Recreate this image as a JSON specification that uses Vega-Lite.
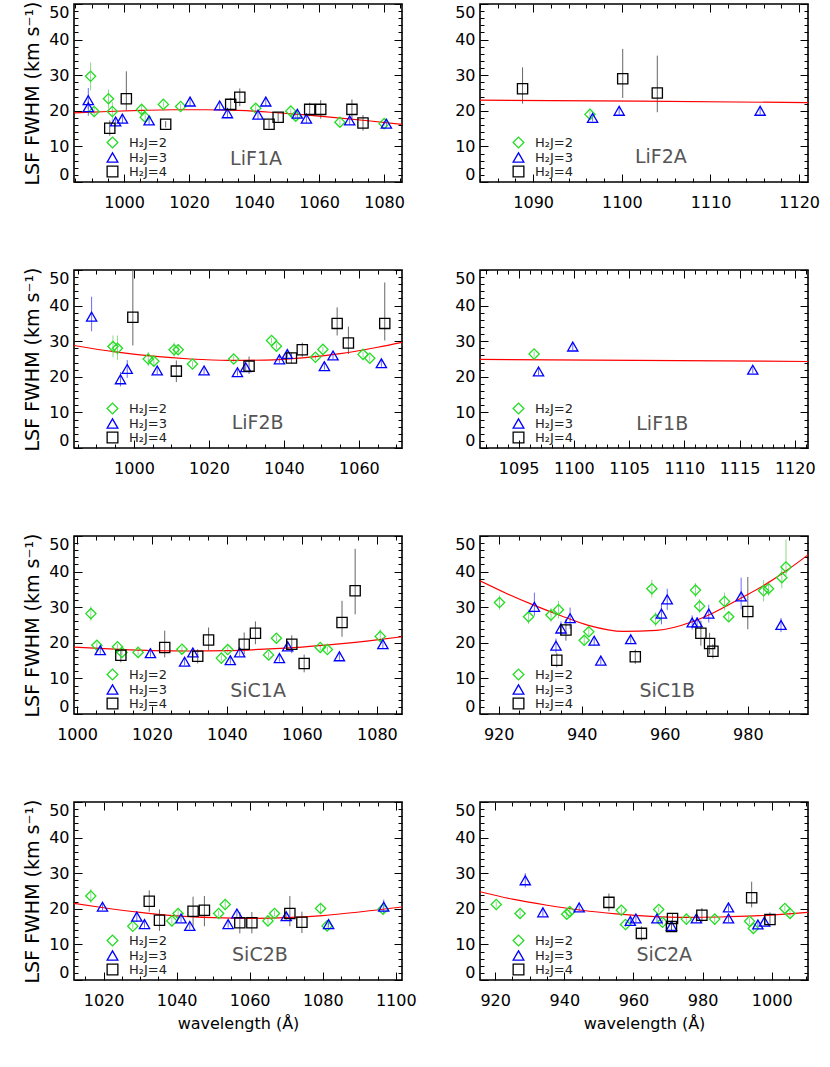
{
"$schema": "https://vega.github.io/schema/vega-lite/v6.json",
"padding": {"left": 22, "top": 0, "right": 0, "bottom": 0},
"config": {
  "font": "DejaVu Sans",
  "view": {"stroke": "#000", "strokeWidth": 1.6},
  "axis": {"domain": false, "grid": false, "tickColor": "#000", "tickWidth": 1, "labelFontSize": 16, "labelColor": "#000", "titleFontSize": 16, "titleFontWeight": "normal", "titleColor": "#000", "labelFont": "DejaVu Sans", "titleFont": "DejaVu Sans"},
  "axisX": {"titlePadding": 3},
  "axisY": {"titlePadding": 6, "titleFontSize": 19}
},
"datasets": {
"pts": [
{"p":"LiF1A","j":"H₂J=2","wl":989.7,"v":29.7,"lo":25.7,"hi":33.6},
{"p":"LiF1A","j":"H₂J=2","wl":990.8,"v":19.8,"lo":18.5,"hi":21.1},
{"p":"LiF1A","j":"H₂J=2","wl":995.2,"v":23.4,"lo":20.6,"hi":26.0},
{"p":"LiF1A","j":"H₂J=2","wl":996.4,"v":19.8,"lo":17.0,"hi":22.5},
{"p":"LiF1A","j":"H₂J=2","wl":1005.4,"v":20.4,"lo":19.2,"hi":21.6},
{"p":"LiF1A","j":"H₂J=2","wl":1006.5,"v":18.2,"lo":16.9,"hi":19.5},
{"p":"LiF1A","j":"H₂J=2","wl":1012.1,"v":21.8,"lo":21.0,"hi":22.6},
{"p":"LiF1A","j":"H₂J=2","wl":1017.4,"v":21.2,"lo":20.4,"hi":22.0},
{"p":"LiF1A","j":"H₂J=2","wl":1040.5,"v":20.7,"lo":19.7,"hi":21.7},
{"p":"LiF1A","j":"H₂J=2","wl":1051.3,"v":19.9,"lo":19.1,"hi":20.7},
{"p":"LiF1A","j":"H₂J=2","wl":1052.8,"v":18.5,"lo":17.5,"hi":19.5},
{"p":"LiF1A","j":"H₂J=2","wl":1066.4,"v":16.8,"lo":16.0,"hi":17.6},
{"p":"LiF1A","j":"H₂J=2","wl":1080.0,"v":16.4,"lo":15.6,"hi":17.2},
{"p":"LiF1A","j":"H₂J=3","wl":989.0,"v":23.0,"lo":20.5,"hi":26.4},
{"p":"LiF1A","j":"H₂J=3","wl":989.0,"v":21.0,"lo":18.6,"hi":23.0},
{"p":"LiF1A","j":"H₂J=3","wl":997.4,"v":17.0,"lo":15.8,"hi":18.2},
{"p":"LiF1A","j":"H₂J=3","wl":999.5,"v":17.8,"lo":16.6,"hi":19.0},
{"p":"LiF1A","j":"H₂J=3","wl":1007.7,"v":17.3,"lo":16.1,"hi":18.5},
{"p":"LiF1A","j":"H₂J=3","wl":1020.3,"v":22.6,"lo":21.4,"hi":23.8},
{"p":"LiF1A","j":"H₂J=3","wl":1029.4,"v":21.5,"lo":20.3,"hi":22.7},
{"p":"LiF1A","j":"H₂J=3","wl":1031.8,"v":19.3,"lo":18.1,"hi":20.5},
{"p":"LiF1A","j":"H₂J=3","wl":1041.2,"v":18.9,"lo":17.7,"hi":20.1},
{"p":"LiF1A","j":"H₂J=3","wl":1043.6,"v":22.6,"lo":21.4,"hi":23.8},
{"p":"LiF1A","j":"H₂J=3","wl":1053.3,"v":19.2,"lo":18.0,"hi":20.4},
{"p":"LiF1A","j":"H₂J=3","wl":1056.1,"v":17.8,"lo":16.6,"hi":19.0},
{"p":"LiF1A","j":"H₂J=3","wl":1069.4,"v":17.3,"lo":16.1,"hi":18.5},
{"p":"LiF1A","j":"H₂J=3","wl":1080.7,"v":16.4,"lo":15.2,"hi":17.6},
{"p":"LiF1A","j":"H₂J=4","wl":995.6,"v":15.1,"lo":13.0,"hi":17.3},
{"p":"LiF1A","j":"H₂J=4","wl":1000.7,"v":23.4,"lo":20.1,"hi":31.1},
{"p":"LiF1A","j":"H₂J=4","wl":1012.8,"v":16.2,"lo":15.3,"hi":17.1},
{"p":"LiF1A","j":"H₂J=4","wl":1032.8,"v":21.8,"lo":20.0,"hi":23.6},
{"p":"LiF1A","j":"H₂J=4","wl":1035.6,"v":23.8,"lo":21.3,"hi":26.3},
{"p":"LiF1A","j":"H₂J=4","wl":1044.6,"v":16.2,"lo":15.0,"hi":17.4},
{"p":"LiF1A","j":"H₂J=4","wl":1047.4,"v":18.2,"lo":17.0,"hi":19.4},
{"p":"LiF1A","j":"H₂J=4","wl":1057.1,"v":20.4,"lo":18.5,"hi":22.3},
{"p":"LiF1A","j":"H₂J=4","wl":1060.5,"v":20.4,"lo":17.8,"hi":23.0},
{"p":"LiF1A","j":"H₂J=4","wl":1070.1,"v":20.4,"lo":17.6,"hi":23.2},
{"p":"LiF1A","j":"H₂J=4","wl":1073.5,"v":16.6,"lo":14.4,"hi":18.8},
{"p":"LiF2A","j":"H₂J=2","wl":1096.4,"v":19.0,"lo":18.2,"hi":19.8},
{"p":"LiF2A","j":"H₂J=3","wl":1096.7,"v":18.0,"lo":17.0,"hi":19.0},
{"p":"LiF2A","j":"H₂J=3","wl":1099.7,"v":20.0,"lo":19.0,"hi":21.0},
{"p":"LiF2A","j":"H₂J=3","wl":1115.6,"v":20.0,"lo":19.0,"hi":21.0},
{"p":"LiF2A","j":"H₂J=4","wl":1088.8,"v":26.2,"lo":22.0,"hi":32.2},
{"p":"LiF2A","j":"H₂J=4","wl":1100.1,"v":29.0,"lo":23.6,"hi":37.4},
{"p":"LiF2A","j":"H₂J=4","wl":1104.0,"v":25.0,"lo":19.6,"hi":35.5},
{"p":"LiF2B","j":"H₂J=3","wl":988.7,"v":36.9,"lo":32.8,"hi":42.5},
{"p":"LiF2B","j":"H₂J=3","wl":996.4,"v":19.3,"lo":17.3,"hi":21.3},
{"p":"LiF2B","j":"H₂J=3","wl":998.2,"v":22.2,"lo":19.7,"hi":24.7},
{"p":"LiF2B","j":"H₂J=3","wl":1006.2,"v":21.8,"lo":20.8,"hi":22.8},
{"p":"LiF2B","j":"H₂J=3","wl":1018.7,"v":21.8,"lo":20.8,"hi":22.8},
{"p":"LiF2B","j":"H₂J=3","wl":1027.6,"v":21.3,"lo":20.3,"hi":22.3},
{"p":"LiF2B","j":"H₂J=3","wl":1029.8,"v":22.7,"lo":21.7,"hi":23.7},
{"p":"LiF2B","j":"H₂J=3","wl":1038.8,"v":24.9,"lo":23.9,"hi":25.9},
{"p":"LiF2B","j":"H₂J=3","wl":1040.9,"v":26.4,"lo":25.4,"hi":27.4},
{"p":"LiF2B","j":"H₂J=3","wl":1050.8,"v":23.0,"lo":22.0,"hi":24.0},
{"p":"LiF2B","j":"H₂J=3","wl":1053.1,"v":26.0,"lo":25.0,"hi":27.0},
{"p":"LiF2B","j":"H₂J=3","wl":1066.0,"v":23.8,"lo":22.8,"hi":24.8},
{"p":"LiF2B","j":"H₂J=2","wl":994.4,"v":28.5,"lo":25.5,"hi":31.6},
{"p":"LiF2B","j":"H₂J=2","wl":995.6,"v":28.0,"lo":24.8,"hi":31.6},
{"p":"LiF2B","j":"H₂J=2","wl":1003.8,"v":25.0,"lo":23.0,"hi":27.0},
{"p":"LiF2B","j":"H₂J=2","wl":1005.3,"v":24.4,"lo":22.8,"hi":26.0},
{"p":"LiF2B","j":"H₂J=2","wl":1010.7,"v":27.6,"lo":25.6,"hi":29.6},
{"p":"LiF2B","j":"H₂J=2","wl":1011.8,"v":27.6,"lo":26.4,"hi":28.8},
{"p":"LiF2B","j":"H₂J=2","wl":1015.6,"v":23.6,"lo":22.8,"hi":24.4},
{"p":"LiF2B","j":"H₂J=2","wl":1026.6,"v":25.0,"lo":24.2,"hi":25.8},
{"p":"LiF2B","j":"H₂J=2","wl":1036.7,"v":30.2,"lo":29.4,"hi":31.0},
{"p":"LiF2B","j":"H₂J=2","wl":1038.0,"v":28.6,"lo":27.8,"hi":29.4},
{"p":"LiF2B","j":"H₂J=2","wl":1048.4,"v":25.5,"lo":24.7,"hi":26.3},
{"p":"LiF2B","j":"H₂J=2","wl":1050.4,"v":27.7,"lo":26.9,"hi":28.5},
{"p":"LiF2B","j":"H₂J=2","wl":1061.1,"v":26.3,"lo":25.5,"hi":27.1},
{"p":"LiF2B","j":"H₂J=2","wl":1062.9,"v":25.2,"lo":24.4,"hi":26.0},
{"p":"LiF2B","j":"H₂J=4","wl":999.7,"v":36.7,"lo":28.8,"hi":52.0},
{"p":"LiF2B","j":"H₂J=4","wl":1011.3,"v":21.6,"lo":18.5,"hi":24.6},
{"p":"LiF2B","j":"H₂J=4","wl":1030.7,"v":23.0,"lo":20.8,"hi":25.7},
{"p":"LiF2B","j":"H₂J=4","wl":1042.0,"v":25.3,"lo":23.8,"hi":26.8},
{"p":"LiF2B","j":"H₂J=4","wl":1044.9,"v":27.6,"lo":25.6,"hi":29.6},
{"p":"LiF2B","j":"H₂J=4","wl":1054.2,"v":35.0,"lo":31.6,"hi":39.5},
{"p":"LiF2B","j":"H₂J=4","wl":1057.2,"v":29.5,"lo":26.4,"hi":34.1},
{"p":"LiF2B","j":"H₂J=4","wl":1066.9,"v":35.0,"lo":30.2,"hi":46.5},
{"p":"LiF1B","j":"H₂J=2","wl":1096.4,"v":26.4,"lo":25.6,"hi":27.2},
{"p":"LiF1B","j":"H₂J=3","wl":1096.8,"v":21.5,"lo":20.5,"hi":22.5},
{"p":"LiF1B","j":"H₂J=3","wl":1099.9,"v":28.5,"lo":27.5,"hi":29.5},
{"p":"LiF1B","j":"H₂J=3","wl":1116.2,"v":22.0,"lo":21.0,"hi":23.0},
{"p":"SiC1A","j":"H₂J=2","wl":1003.7,"v":28.2,"lo":26.2,"hi":30.2},
{"p":"SiC1A","j":"H₂J=2","wl":1005.3,"v":19.3,"lo":18.5,"hi":20.1},
{"p":"SiC1A","j":"H₂J=2","wl":1010.8,"v":18.9,"lo":18.1,"hi":19.7},
{"p":"SiC1A","j":"H₂J=2","wl":1012.0,"v":17.3,"lo":16.5,"hi":18.1},
{"p":"SiC1A","j":"H₂J=2","wl":1016.3,"v":17.3,"lo":16.5,"hi":18.1},
{"p":"SiC1A","j":"H₂J=2","wl":1028.0,"v":18.2,"lo":17.4,"hi":19.0},
{"p":"SiC1A","j":"H₂J=2","wl":1038.5,"v":15.7,"lo":14.9,"hi":16.5},
{"p":"SiC1A","j":"H₂J=2","wl":1040.2,"v":18.1,"lo":17.3,"hi":18.9},
{"p":"SiC1A","j":"H₂J=2","wl":1051.1,"v":16.6,"lo":15.8,"hi":17.4},
{"p":"SiC1A","j":"H₂J=2","wl":1053.2,"v":21.3,"lo":20.5,"hi":22.1},
{"p":"SiC1A","j":"H₂J=2","wl":1064.9,"v":18.7,"lo":17.9,"hi":19.5},
{"p":"SiC1A","j":"H₂J=2","wl":1066.8,"v":18.1,"lo":17.3,"hi":18.9},
{"p":"SiC1A","j":"H₂J=2","wl":1080.9,"v":21.8,"lo":19.8,"hi":23.8},
{"p":"SiC1A","j":"H₂J=3","wl":1006.2,"v":17.9,"lo":16.9,"hi":18.9},
{"p":"SiC1A","j":"H₂J=3","wl":1019.6,"v":17.1,"lo":16.1,"hi":18.1},
{"p":"SiC1A","j":"H₂J=3","wl":1028.7,"v":14.7,"lo":13.7,"hi":15.7},
{"p":"SiC1A","j":"H₂J=3","wl":1030.9,"v":17.3,"lo":16.3,"hi":18.3},
{"p":"SiC1A","j":"H₂J=3","wl":1040.9,"v":15.1,"lo":14.1,"hi":16.1},
{"p":"SiC1A","j":"H₂J=3","wl":1043.4,"v":17.3,"lo":16.3,"hi":18.3},
{"p":"SiC1A","j":"H₂J=3","wl":1054.0,"v":15.7,"lo":14.7,"hi":16.7},
{"p":"SiC1A","j":"H₂J=3","wl":1056.2,"v":19.0,"lo":18.0,"hi":20.0},
{"p":"SiC1A","j":"H₂J=3","wl":1070.0,"v":16.2,"lo":15.2,"hi":17.2},
{"p":"SiC1A","j":"H₂J=3","wl":1081.6,"v":19.6,"lo":18.4,"hi":20.8},
{"p":"SiC1A","j":"H₂J=4","wl":1011.7,"v":16.5,"lo":14.5,"hi":18.5},
{"p":"SiC1A","j":"H₂J=4","wl":1023.4,"v":18.7,"lo":15.9,"hi":23.4},
{"p":"SiC1A","j":"H₂J=4","wl":1032.2,"v":16.2,"lo":14.2,"hi":18.2},
{"p":"SiC1A","j":"H₂J=4","wl":1035.1,"v":20.8,"lo":17.9,"hi":24.3},
{"p":"SiC1A","j":"H₂J=4","wl":1044.6,"v":19.6,"lo":16.8,"hi":22.9},
{"p":"SiC1A","j":"H₂J=4","wl":1047.6,"v":22.7,"lo":19.6,"hi":26.0},
{"p":"SiC1A","j":"H₂J=4","wl":1057.3,"v":19.6,"lo":17.1,"hi":22.1},
{"p":"SiC1A","j":"H₂J=4","wl":1060.6,"v":14.2,"lo":11.7,"hi":16.7},
{"p":"SiC1A","j":"H₂J=4","wl":1070.7,"v":25.7,"lo":21.7,"hi":31.8},
{"p":"SiC1A","j":"H₂J=4","wl":1074.2,"v":34.6,"lo":28.0,"hi":46.4},
{"p":"SiC1B","j":"H₂J=2","wl":920.2,"v":31.3,"lo":29.3,"hi":33.3},
{"p":"SiC1B","j":"H₂J=2","wl":927.2,"v":27.3,"lo":25.3,"hi":29.3},
{"p":"SiC1B","j":"H₂J=2","wl":932.6,"v":27.8,"lo":25.8,"hi":29.8},
{"p":"SiC1B","j":"H₂J=2","wl":934.4,"v":29.3,"lo":26.8,"hi":31.8},
{"p":"SiC1B","j":"H₂J=2","wl":940.6,"v":20.7,"lo":19.2,"hi":22.2},
{"p":"SiC1B","j":"H₂J=2","wl":941.7,"v":23.1,"lo":21.6,"hi":24.6},
{"p":"SiC1B","j":"H₂J=2","wl":956.9,"v":35.2,"lo":32.7,"hi":37.7},
{"p":"SiC1B","j":"H₂J=2","wl":957.8,"v":26.6,"lo":24.6,"hi":28.6},
{"p":"SiC1B","j":"H₂J=2","wl":967.4,"v":34.8,"lo":32.8,"hi":36.8},
{"p":"SiC1B","j":"H₂J=2","wl":968.4,"v":30.3,"lo":28.3,"hi":32.3},
{"p":"SiC1B","j":"H₂J=2","wl":974.4,"v":31.6,"lo":29.1,"hi":34.1},
{"p":"SiC1B","j":"H₂J=2","wl":975.4,"v":27.3,"lo":25.8,"hi":28.8},
{"p":"SiC1B","j":"H₂J=2","wl":983.8,"v":34.6,"lo":31.6,"hi":37.6},
{"p":"SiC1B","j":"H₂J=2","wl":985.0,"v":35.2,"lo":33.2,"hi":37.2},
{"p":"SiC1B","j":"H₂J=2","wl":988.2,"v":38.3,"lo":35.3,"hi":41.3},
{"p":"SiC1B","j":"H₂J=2","wl":989.2,"v":41.3,"lo":38.8,"hi":49.0},
{"p":"SiC1B","j":"H₂J=3","wl":928.6,"v":30.1,"lo":27.6,"hi":34.1},
{"p":"SiC1B","j":"H₂J=3","wl":933.8,"v":19.2,"lo":17.2,"hi":21.2},
{"p":"SiC1B","j":"H₂J=3","wl":935.0,"v":24.0,"lo":22.0,"hi":26.0},
{"p":"SiC1B","j":"H₂J=3","wl":937.2,"v":26.9,"lo":23.9,"hi":29.9},
{"p":"SiC1B","j":"H₂J=3","wl":943.0,"v":20.6,"lo":19.4,"hi":21.8},
{"p":"SiC1B","j":"H₂J=3","wl":944.6,"v":15.0,"lo":14.0,"hi":16.0},
{"p":"SiC1B","j":"H₂J=3","wl":951.8,"v":21.0,"lo":19.8,"hi":22.2},
{"p":"SiC1B","j":"H₂J=3","wl":959.2,"v":28.2,"lo":25.2,"hi":31.2},
{"p":"SiC1B","j":"H₂J=3","wl":960.6,"v":32.2,"lo":29.2,"hi":35.2},
{"p":"SiC1B","j":"H₂J=3","wl":966.6,"v":25.7,"lo":23.7,"hi":27.7},
{"p":"SiC1B","j":"H₂J=3","wl":967.8,"v":25.7,"lo":24.2,"hi":27.2},
{"p":"SiC1B","j":"H₂J=3","wl":970.6,"v":28.2,"lo":25.7,"hi":30.7},
{"p":"SiC1B","j":"H₂J=3","wl":978.4,"v":33.0,"lo":29.4,"hi":38.3},
{"p":"SiC1B","j":"H₂J=3","wl":988.0,"v":25.0,"lo":23.0,"hi":27.0},
{"p":"SiC1B","j":"H₂J=4","wl":934.0,"v":15.1,"lo":13.1,"hi":17.1},
{"p":"SiC1B","j":"H₂J=4","wl":936.2,"v":23.6,"lo":20.6,"hi":26.6},
{"p":"SiC1B","j":"H₂J=4","wl":952.9,"v":16.1,"lo":14.1,"hi":18.1},
{"p":"SiC1B","j":"H₂J=4","wl":968.7,"v":22.7,"lo":19.2,"hi":26.2},
{"p":"SiC1B","j":"H₂J=4","wl":970.8,"v":19.8,"lo":16.8,"hi":22.8},
{"p":"SiC1B","j":"H₂J=4","wl":971.6,"v":17.6,"lo":15.6,"hi":19.6},
{"p":"SiC1B","j":"H₂J=4","wl":980.0,"v":28.8,"lo":23.8,"hi":38.5},
{"p":"SiC2B","j":"H₂J=2","wl":1016.5,"v":23.6,"lo":21.6,"hi":25.6},
{"p":"SiC2B","j":"H₂J=2","wl":1028.0,"v":15.1,"lo":14.3,"hi":15.9},
{"p":"SiC2B","j":"H₂J=2","wl":1038.7,"v":16.6,"lo":15.8,"hi":17.4},
{"p":"SiC2B","j":"H₂J=2","wl":1040.4,"v":18.7,"lo":17.2,"hi":20.2},
{"p":"SiC2B","j":"H₂J=2","wl":1051.5,"v":18.7,"lo":17.9,"hi":19.5},
{"p":"SiC2B","j":"H₂J=2","wl":1053.3,"v":21.2,"lo":19.7,"hi":22.7},
{"p":"SiC2B","j":"H₂J=2","wl":1065.0,"v":16.6,"lo":15.8,"hi":17.4},
{"p":"SiC2B","j":"H₂J=2","wl":1066.8,"v":18.7,"lo":17.9,"hi":19.5},
{"p":"SiC2B","j":"H₂J=2","wl":1079.4,"v":20.1,"lo":18.6,"hi":21.6},
{"p":"SiC2B","j":"H₂J=2","wl":1081.2,"v":15.2,"lo":14.4,"hi":16.0},
{"p":"SiC2B","j":"H₂J=2","wl":1096.5,"v":19.9,"lo":19.1,"hi":20.7},
{"p":"SiC2B","j":"H₂J=3","wl":1019.7,"v":20.6,"lo":19.6,"hi":21.6},
{"p":"SiC2B","j":"H₂J=3","wl":1029.1,"v":17.8,"lo":16.3,"hi":19.3},
{"p":"SiC2B","j":"H₂J=3","wl":1031.2,"v":15.7,"lo":14.7,"hi":16.7},
{"p":"SiC2B","j":"H₂J=3","wl":1041.2,"v":17.3,"lo":16.3,"hi":18.3},
{"p":"SiC2B","j":"H₂J=3","wl":1043.6,"v":15.2,"lo":14.2,"hi":16.2},
{"p":"SiC2B","j":"H₂J=3","wl":1054.1,"v":15.7,"lo":14.7,"hi":16.7},
{"p":"SiC2B","j":"H₂J=3","wl":1056.5,"v":18.7,"lo":17.7,"hi":19.7},
{"p":"SiC2B","j":"H₂J=3","wl":1070.0,"v":17.9,"lo":16.9,"hi":18.9},
{"p":"SiC2B","j":"H₂J=3","wl":1081.6,"v":15.7,"lo":14.7,"hi":16.7},
{"p":"SiC2B","j":"H₂J=3","wl":1096.7,"v":20.6,"lo":18.6,"hi":22.6},
{"p":"SiC2B","j":"H₂J=4","wl":1032.5,"v":22.1,"lo":19.2,"hi":25.2},
{"p":"SiC2B","j":"H₂J=4","wl":1035.3,"v":16.8,"lo":13.8,"hi":19.8},
{"p":"SiC2B","j":"H₂J=4","wl":1044.5,"v":19.3,"lo":15.0,"hi":23.4},
{"p":"SiC2B","j":"H₂J=4","wl":1047.6,"v":19.6,"lo":15.1,"hi":23.6},
{"p":"SiC2B","j":"H₂J=4","wl":1057.3,"v":16.1,"lo":13.1,"hi":19.1},
{"p":"SiC2B","j":"H₂J=4","wl":1060.6,"v":16.1,"lo":13.1,"hi":19.1},
{"p":"SiC2B","j":"H₂J=4","wl":1071.0,"v":18.7,"lo":15.1,"hi":23.6},
{"p":"SiC2B","j":"H₂J=4","wl":1074.3,"v":16.2,"lo":13.2,"hi":19.2},
{"p":"SiC2A","j":"H₂J=2","wl":920.3,"v":21.2,"lo":20.4,"hi":22.0},
{"p":"SiC2A","j":"H₂J=2","wl":927.2,"v":18.7,"lo":17.9,"hi":19.5},
{"p":"SiC2A","j":"H₂J=2","wl":940.7,"v":18.5,"lo":17.7,"hi":19.3},
{"p":"SiC2A","j":"H₂J=2","wl":941.6,"v":19.2,"lo":18.4,"hi":20.0},
{"p":"SiC2A","j":"H₂J=2","wl":956.5,"v":19.6,"lo":18.8,"hi":20.4},
{"p":"SiC2A","j":"H₂J=2","wl":957.7,"v":15.6,"lo":14.8,"hi":16.4},
{"p":"SiC2A","j":"H₂J=2","wl":967.3,"v":19.8,"lo":19.0,"hi":20.6},
{"p":"SiC2A","j":"H₂J=2","wl":968.4,"v":16.2,"lo":15.4,"hi":17.0},
{"p":"SiC2A","j":"H₂J=2","wl":975.3,"v":17.1,"lo":16.3,"hi":17.9},
{"p":"SiC2A","j":"H₂J=2","wl":983.5,"v":17.1,"lo":16.3,"hi":17.9},
{"p":"SiC2A","j":"H₂J=2","wl":993.6,"v":16.5,"lo":15.7,"hi":17.3},
{"p":"SiC2A","j":"H₂J=2","wl":994.7,"v":14.5,"lo":13.7,"hi":15.3},
{"p":"SiC2A","j":"H₂J=2","wl":1003.8,"v":20.1,"lo":19.3,"hi":20.9},
{"p":"SiC2A","j":"H₂J=2","wl":1005.3,"v":18.7,"lo":17.9,"hi":19.5},
{"p":"SiC2A","j":"H₂J=3","wl":928.7,"v":28.0,"lo":26.0,"hi":30.0},
{"p":"SiC2A","j":"H₂J=3","wl":933.8,"v":19.0,"lo":18.0,"hi":20.0},
{"p":"SiC2A","j":"H₂J=3","wl":944.3,"v":20.4,"lo":19.4,"hi":21.4},
{"p":"SiC2A","j":"H₂J=3","wl":959.1,"v":16.6,"lo":15.6,"hi":17.6},
{"p":"SiC2A","j":"H₂J=3","wl":960.7,"v":17.3,"lo":16.3,"hi":18.3},
{"p":"SiC2A","j":"H₂J=3","wl":966.8,"v":17.3,"lo":16.3,"hi":18.3},
{"p":"SiC2A","j":"H₂J=3","wl":971.0,"v":15.2,"lo":14.2,"hi":16.2},
{"p":"SiC2A","j":"H₂J=3","wl":978.2,"v":17.3,"lo":16.3,"hi":18.3},
{"p":"SiC2A","j":"H₂J=3","wl":987.5,"v":20.4,"lo":19.4,"hi":21.4},
{"p":"SiC2A","j":"H₂J=3","wl":987.5,"v":17.3,"lo":16.3,"hi":18.3},
{"p":"SiC2A","j":"H₂J=3","wl":996.0,"v":15.6,"lo":14.6,"hi":16.6},
{"p":"SiC2A","j":"H₂J=3","wl":997.9,"v":16.4,"lo":15.4,"hi":17.4},
{"p":"SiC2A","j":"H₂J=4","wl":952.9,"v":21.8,"lo":19.3,"hi":24.3},
{"p":"SiC2A","j":"H₂J=4","wl":962.3,"v":13.1,"lo":11.1,"hi":15.1},
{"p":"SiC2A","j":"H₂J=4","wl":971.3,"v":17.3,"lo":15.8,"hi":18.8},
{"p":"SiC2A","j":"H₂J=4","wl":971.0,"v":15.0,"lo":14.0,"hi":16.0},
{"p":"SiC2A","j":"H₂J=4","wl":979.8,"v":18.2,"lo":16.2,"hi":20.2},
{"p":"SiC2A","j":"H₂J=4","wl":994.2,"v":23.1,"lo":20.4,"hi":27.6},
{"p":"SiC2A","j":"H₂J=4","wl":999.5,"v":17.0,"lo":15.0,"hi":19.0}
],
"fit": [
{"p":"LiF1A","wl":984.6,"v":19.4},{"p":"LiF1A","wl":995,"v":19.8},{"p":"LiF1A","wl":1005,"v":20.1},{"p":"LiF1A","wl":1015,"v":20.3},{"p":"LiF1A","wl":1025,"v":20.3},{"p":"LiF1A","wl":1035,"v":20.1},{"p":"LiF1A","wl":1045,"v":19.6},{"p":"LiF1A","wl":1055,"v":18.9},{"p":"LiF1A","wl":1065,"v":18.1},{"p":"LiF1A","wl":1075,"v":17.2},{"p":"LiF1A","wl":1085.5,"v":16.2},
{"p":"LiF2A","wl":1084,"v":23.0},{"p":"LiF2A","wl":1102,"v":22.7},{"p":"LiF2A","wl":1121,"v":22.3},
{"p":"LiF2B","wl":984,"v":28.8},{"p":"LiF2B","wl":995,"v":27.0},{"p":"LiF2B","wl":1005,"v":25.8},{"p":"LiF2B","wl":1015,"v":25.0},{"p":"LiF2B","wl":1025,"v":24.6},{"p":"LiF2B","wl":1035,"v":24.7},{"p":"LiF2B","wl":1045,"v":25.3},{"p":"LiF2B","wl":1055,"v":26.5},{"p":"LiF2B","wl":1065,"v":28.3},{"p":"LiF2B","wl":1071.5,"v":29.7},
{"p":"LiF1B","wl":1091.5,"v":24.9},{"p":"LiF1B","wl":1121.2,"v":24.3},
{"p":"SiC1A","wl":999.2,"v":18.8},{"p":"SiC1A","wl":1010,"v":18.2},{"p":"SiC1A","wl":1020,"v":17.8},{"p":"SiC1A","wl":1030,"v":17.7},{"p":"SiC1A","wl":1040,"v":17.8},{"p":"SiC1A","wl":1050,"v":18.2},{"p":"SiC1A","wl":1060,"v":18.8},{"p":"SiC1A","wl":1070,"v":19.7},{"p":"SiC1A","wl":1080,"v":20.8},{"p":"SiC1A","wl":1086.7,"v":21.7},
{"p":"SiC1B","wl":915.5,"v":37.4},{"p":"SiC1B","wl":922,"v":33.8},{"p":"SiC1B","wl":928.6,"v":30.5},{"p":"SiC1B","wl":935,"v":27.6},{"p":"SiC1B","wl":941.6,"v":24.9},{"p":"SiC1B","wl":950,"v":23.2},{"p":"SiC1B","wl":958,"v":23.5},{"p":"SiC1B","wl":966.8,"v":26.0},{"p":"SiC1B","wl":972,"v":28.6},{"p":"SiC1B","wl":978.4,"v":32.6},{"p":"SiC1B","wl":984,"v":36.2},{"p":"SiC1B","wl":989,"v":40.0},{"p":"SiC1B","wl":994.5,"v":44.7},
{"p":"SiC2B","wl":1011.9,"v":21.5},{"p":"SiC2B","wl":1020,"v":20.3},{"p":"SiC2B","wl":1030,"v":19.0},{"p":"SiC2B","wl":1040,"v":18.0},{"p":"SiC2B","wl":1050,"v":17.5},{"p":"SiC2B","wl":1060,"v":17.3},{"p":"SiC2B","wl":1070,"v":17.5},{"p":"SiC2B","wl":1080,"v":18.1},{"p":"SiC2B","wl":1090,"v":19.1},{"p":"SiC2B","wl":1101.7,"v":20.5},
{"p":"SiC2A","wl":915.6,"v":24.8},{"p":"SiC2A","wl":925,"v":22.7},{"p":"SiC2A","wl":935,"v":21.0},{"p":"SiC2A","wl":945,"v":19.6},{"p":"SiC2A","wl":955,"v":18.6},{"p":"SiC2A","wl":965,"v":17.9},{"p":"SiC2A","wl":975,"v":17.6},{"p":"SiC2A","wl":985,"v":17.7},{"p":"SiC2A","wl":995,"v":18.0},{"p":"SiC2A","wl":1005,"v":18.6},{"p":"SiC2A","wl":1010.5,"v":19.0}
]
},
"columns": 2,
"spacing": {"row": 88, "column": 78},
"bounds": "flush",
"resolve": {"scale": {"x": "independent", "y": "independent"}, "legend": {"color": "independent", "shape": "independent"}},
"concat": [
{"width": 328, "height": 178, "resolve": {"axis": {"x": "independent", "y": "independent"}},
 "layer": [
  {"data": {"name": "pts"}, "transform": [{"filter": "datum.p === 'LiF1A'"}], "mark": {"type": "rule", "strokeWidth": 1, "clip": true},
   "encoding": {"x": {"field": "wl", "type": "quantitative", "scale": {"domain": [984.6, 1085.5], "nice": false, "zero": false}, "axis": null},
    "y": {"field": "lo", "type": "quantitative", "scale": {"domain": [0, 50], "nice": false, "zero": false}, "axis": null}, "y2": {"field": "hi"},
    "stroke": {"field": "j", "type": "nominal", "scale": {"domain": ["H₂J=2","H₂J=3","H₂J=4"], "range": ["#8fd88f","#6a6aff","#666666"]}, "legend": null}}},
  {"data": {"name": "fit"}, "transform": [{"filter": "datum.p === 'LiF1A'"}], "mark": {"type": "line", "color": "#ff0000", "strokeWidth": 1.2, "interpolate": "monotone", "clip": true},
   "encoding": {"x": {"field": "wl", "type": "quantitative", "scale": {"domain": [984.6, 1085.5], "nice": false, "zero": false}, "axis": {"orient": "top", "labels": false, "title": null, "values": [985,990,995,1000,1005,1010,1015,1020,1025,1030,1035,1040,1045,1050,1055,1060,1065,1070,1075,1080,1085], "tickSize": {"condition": {"test": "datum.value % 20 === 0", "value": -8}, "value": -4}}},
    "y": {"field": "v", "type": "quantitative", "scale": {"domain": [0, 50], "nice": false, "zero": false}, "axis": {"orient": "right", "labels": false, "title": null, "values": [0,2,4,6,8,10,12,14,16,18,20,22,24,26,28,30,32,34,36,38,40,42,44,46,48,50], "tickSize": {"condition": {"test": "datum.value % 10 === 0", "value": -8}, "value": -4}}}}},
  {"data": {"name": "pts"}, "transform": [{"filter": "datum.p === 'LiF1A'"}], "mark": {"type": "point", "filled": false, "size": 105, "strokeWidth": 1.3, "opacity": 1},
   "encoding": {"x": {"field": "wl", "type": "quantitative", "scale": {"domain": [984.6, 1085.5], "nice": false, "zero": false}, "axis": {"orient": "bottom", "title": null, "format": "d", "labelFlush": false, "labelOverlap": false, "labelPadding": 20, "values": [985,990,995,1000,1005,1010,1015,1020,1025,1030,1035,1040,1045,1050,1055,1060,1065,1070,1075,1080,1085], "labelExpr": "datum.value % 20 === 0 ? datum.label : ''", "tickSize": {"condition": {"test": "datum.value % 20 === 0", "value": -8}, "value": -4}}},
    "y": {"field": "v", "type": "quantitative", "scale": {"domain": [0, 50], "nice": false, "zero": false}, "axis": {"orient": "left", "title": "LSF FWHM (km s⁻¹)", "labelFlush": true, "labelOverlap": false, "labelPadding": 13, "values": [0,2,4,6,8,10,12,14,16,18,20,22,24,26,28,30,32,34,36,38,40,42,44,46,48,50], "labelExpr": "datum.value % 10 === 0 ? datum.label : ''", "tickSize": {"condition": {"test": "datum.value % 10 === 0", "value": -8}, "value": -4}}},
    "shape": {"field": "j", "type": "nominal", "scale": {"domain": ["H₂J=2","H₂J=3","H₂J=4"], "range": ["diamond","triangle-up","square"]}, "legend": {"title": null, "orient": "none", "legendX": 32, "legendY": 132, "labelFontSize": 13, "symbolSize": 115, "symbolStrokeWidth": 1.3, "rowPadding": -3, "labelOffset": 10, "padding": 0, "labelColor": "#222"}},
    "color": {"field": "j", "type": "nominal", "scale": {"domain": ["H₂J=2","H₂J=3","H₂J=4"], "range": ["#22dd22","#0000ff","#000000"]}, "legend": {"title": null, "orient": "none", "legendX": 32, "legendY": 132, "labelFontSize": 13, "symbolSize": 115, "symbolStrokeWidth": 1.3, "rowPadding": -3, "labelOffset": 10, "padding": 0, "labelColor": "#222"}}}},
  {"data": {"values": [{"name": "LiF1A"}]}, "mark": {"type": "text", "fontSize": 19, "color": "#555555"},
   "encoding": {"x": {"datum": 1040.6, "type": "quantitative", "scale": {"domain": [984.6, 1085.5], "nice": false, "zero": false}, "axis": null}, "y": {"datum": 6.5, "type": "quantitative", "scale": {"domain": [0, 50], "nice": false, "zero": false}, "axis": null}, "text": {"field": "name"}}}
 ]},
{"width": 328, "height": 178, "resolve": {"axis": {"x": "independent", "y": "independent"}},
 "layer": [
  {"data": {"name": "pts"}, "transform": [{"filter": "datum.p === 'LiF2A'"}], "mark": {"type": "rule", "strokeWidth": 1, "clip": true},
   "encoding": {"x": {"field": "wl", "type": "quantitative", "scale": {"domain": [1084, 1121], "nice": false, "zero": false}, "axis": null},
    "y": {"field": "lo", "type": "quantitative", "scale": {"domain": [0, 50], "nice": false, "zero": false}, "axis": null}, "y2": {"field": "hi"},
    "stroke": {"field": "j", "type": "nominal", "scale": {"domain": ["H₂J=2","H₂J=3","H₂J=4"], "range": ["#8fd88f","#6a6aff","#666666"]}, "legend": null}}},
  {"data": {"name": "fit"}, "transform": [{"filter": "datum.p === 'LiF2A'"}], "mark": {"type": "line", "color": "#ff0000", "strokeWidth": 1.2, "interpolate": "monotone", "clip": true},
   "encoding": {"x": {"field": "wl", "type": "quantitative", "scale": {"domain": [1084, 1121], "nice": false, "zero": false}, "axis": {"orient": "top", "labels": false, "title": null, "values": [1084,1086,1088,1090,1092,1094,1096,1098,1100,1102,1104,1106,1108,1110,1112,1114,1116,1118,1120], "tickSize": {"condition": {"test": "datum.value % 10 === 0", "value": -8}, "value": -4}}},
    "y": {"field": "v", "type": "quantitative", "scale": {"domain": [0, 50], "nice": false, "zero": false}, "axis": {"orient": "right", "labels": false, "title": null, "values": [0,2,4,6,8,10,12,14,16,18,20,22,24,26,28,30,32,34,36,38,40,42,44,46,48,50], "tickSize": {"condition": {"test": "datum.value % 10 === 0", "value": -8}, "value": -4}}}}},
  {"data": {"name": "pts"}, "transform": [{"filter": "datum.p === 'LiF2A'"}], "mark": {"type": "point", "filled": false, "size": 105, "strokeWidth": 1.3, "opacity": 1},
   "encoding": {"x": {"field": "wl", "type": "quantitative", "scale": {"domain": [1084, 1121], "nice": false, "zero": false}, "axis": {"orient": "bottom", "title": null, "format": "d", "labelFlush": false, "labelOverlap": false, "labelPadding": 20, "values": [1084,1086,1088,1090,1092,1094,1096,1098,1100,1102,1104,1106,1108,1110,1112,1114,1116,1118,1120], "labelExpr": "datum.value % 10 === 0 ? datum.label : ''", "tickSize": {"condition": {"test": "datum.value % 10 === 0", "value": -8}, "value": -4}}},
    "y": {"field": "v", "type": "quantitative", "scale": {"domain": [0, 50], "nice": false, "zero": false}, "axis": {"orient": "left", "title": null, "labelFlush": true, "labelOverlap": false, "labelPadding": 13, "values": [0,2,4,6,8,10,12,14,16,18,20,22,24,26,28,30,32,34,36,38,40,42,44,46,48,50], "labelExpr": "datum.value % 10 === 0 ? datum.label : ''", "tickSize": {"condition": {"test": "datum.value % 10 === 0", "value": -8}, "value": -4}}},
    "shape": {"field": "j", "type": "nominal", "scale": {"domain": ["H₂J=2","H₂J=3","H₂J=4"], "range": ["diamond","triangle-up","square"]}, "legend": {"title": null, "orient": "none", "legendX": 32, "legendY": 132, "labelFontSize": 13, "symbolSize": 115, "symbolStrokeWidth": 1.3, "rowPadding": -3, "labelOffset": 10, "padding": 0, "labelColor": "#222"}},
    "color": {"field": "j", "type": "nominal", "scale": {"domain": ["H₂J=2","H₂J=3","H₂J=4"], "range": ["#22dd22","#0000ff","#000000"]}, "legend": {"title": null, "orient": "none", "legendX": 32, "legendY": 132, "labelFontSize": 13, "symbolSize": 115, "symbolStrokeWidth": 1.3, "rowPadding": -3, "labelOffset": 10, "padding": 0, "labelColor": "#222"}}}},
  {"data": {"values": [{"name": "LiF2A"}]}, "mark": {"type": "text", "fontSize": 19, "color": "#555555"},
   "encoding": {"x": {"datum": 1104.4, "type": "quantitative", "scale": {"domain": [1084, 1121], "nice": false, "zero": false}, "axis": null}, "y": {"datum": 7.0, "type": "quantitative", "scale": {"domain": [0, 50], "nice": false, "zero": false}, "axis": null}, "text": {"field": "name"}}}
 ]},
{"width": 328, "height": 178, "resolve": {"axis": {"x": "independent", "y": "independent"}},
 "layer": [
  {"data": {"name": "pts"}, "transform": [{"filter": "datum.p === 'LiF2B'"}], "mark": {"type": "rule", "strokeWidth": 1, "clip": true},
   "encoding": {"x": {"field": "wl", "type": "quantitative", "scale": {"domain": [984, 1071.5], "nice": false, "zero": false}, "axis": null},
    "y": {"field": "lo", "type": "quantitative", "scale": {"domain": [0, 50], "nice": false, "zero": false}, "axis": null}, "y2": {"field": "hi"},
    "stroke": {"field": "j", "type": "nominal", "scale": {"domain": ["H₂J=2","H₂J=3","H₂J=4"], "range": ["#8fd88f","#6a6aff","#666666"]}, "legend": null}}},
  {"data": {"name": "fit"}, "transform": [{"filter": "datum.p === 'LiF2B'"}], "mark": {"type": "line", "color": "#ff0000", "strokeWidth": 1.2, "interpolate": "monotone", "clip": true},
   "encoding": {"x": {"field": "wl", "type": "quantitative", "scale": {"domain": [984, 1071.5], "nice": false, "zero": false}, "axis": {"orient": "top", "labels": false, "title": null, "values": [985,990,995,1000,1005,1010,1015,1020,1025,1030,1035,1040,1045,1050,1055,1060,1065,1070], "tickSize": {"condition": {"test": "datum.value % 20 === 0", "value": -8}, "value": -4}}},
    "y": {"field": "v", "type": "quantitative", "scale": {"domain": [0, 50], "nice": false, "zero": false}, "axis": {"orient": "right", "labels": false, "title": null, "values": [0,2,4,6,8,10,12,14,16,18,20,22,24,26,28,30,32,34,36,38,40,42,44,46,48,50], "tickSize": {"condition": {"test": "datum.value % 10 === 0", "value": -8}, "value": -4}}}}},
  {"data": {"name": "pts"}, "transform": [{"filter": "datum.p === 'LiF2B'"}], "mark": {"type": "point", "filled": false, "size": 105, "strokeWidth": 1.3, "opacity": 1},
   "encoding": {"x": {"field": "wl", "type": "quantitative", "scale": {"domain": [984, 1071.5], "nice": false, "zero": false}, "axis": {"orient": "bottom", "title": null, "format": "d", "labelFlush": false, "labelOverlap": false, "labelPadding": 20, "values": [985,990,995,1000,1005,1010,1015,1020,1025,1030,1035,1040,1045,1050,1055,1060,1065,1070], "labelExpr": "datum.value % 20 === 0 ? datum.label : ''", "tickSize": {"condition": {"test": "datum.value % 20 === 0", "value": -8}, "value": -4}}},
    "y": {"field": "v", "type": "quantitative", "scale": {"domain": [0, 50], "nice": false, "zero": false}, "axis": {"orient": "left", "title": "LSF FWHM (km s⁻¹)", "labelFlush": true, "labelOverlap": false, "labelPadding": 13, "values": [0,2,4,6,8,10,12,14,16,18,20,22,24,26,28,30,32,34,36,38,40,42,44,46,48,50], "labelExpr": "datum.value % 10 === 0 ? datum.label : ''", "tickSize": {"condition": {"test": "datum.value % 10 === 0", "value": -8}, "value": -4}}},
    "shape": {"field": "j", "type": "nominal", "scale": {"domain": ["H₂J=2","H₂J=3","H₂J=4"], "range": ["diamond","triangle-up","square"]}, "legend": {"title": null, "orient": "none", "legendX": 32, "legendY": 132, "labelFontSize": 13, "symbolSize": 115, "symbolStrokeWidth": 1.3, "rowPadding": -3, "labelOffset": 10, "padding": 0, "labelColor": "#222"}},
    "color": {"field": "j", "type": "nominal", "scale": {"domain": ["H₂J=2","H₂J=3","H₂J=4"], "range": ["#22dd22","#0000ff","#000000"]}, "legend": {"title": null, "orient": "none", "legendX": 32, "legendY": 132, "labelFontSize": 13, "symbolSize": 115, "symbolStrokeWidth": 1.3, "rowPadding": -3, "labelOffset": 10, "padding": 0, "labelColor": "#222"}}}},
  {"data": {"values": [{"name": "LiF2B"}]}, "mark": {"type": "text", "fontSize": 19, "color": "#555555"},
   "encoding": {"x": {"datum": 1033.0, "type": "quantitative", "scale": {"domain": [984, 1071.5], "nice": false, "zero": false}, "axis": null}, "y": {"datum": 7.0, "type": "quantitative", "scale": {"domain": [0, 50], "nice": false, "zero": false}, "axis": null}, "text": {"field": "name"}}}
 ]},
{"width": 328, "height": 178, "resolve": {"axis": {"x": "independent", "y": "independent"}},
 "layer": [
  {"data": {"name": "pts"}, "transform": [{"filter": "datum.p === 'LiF1B'"}], "mark": {"type": "rule", "strokeWidth": 1, "clip": true},
   "encoding": {"x": {"field": "wl", "type": "quantitative", "scale": {"domain": [1091.5, 1121.2], "nice": false, "zero": false}, "axis": null},
    "y": {"field": "lo", "type": "quantitative", "scale": {"domain": [0, 50], "nice": false, "zero": false}, "axis": null}, "y2": {"field": "hi"},
    "stroke": {"field": "j", "type": "nominal", "scale": {"domain": ["H₂J=2","H₂J=3","H₂J=4"], "range": ["#8fd88f","#6a6aff","#666666"]}, "legend": null}}},
  {"data": {"name": "fit"}, "transform": [{"filter": "datum.p === 'LiF1B'"}], "mark": {"type": "line", "color": "#ff0000", "strokeWidth": 1.2, "interpolate": "monotone", "clip": true},
   "encoding": {"x": {"field": "wl", "type": "quantitative", "scale": {"domain": [1091.5, 1121.2], "nice": false, "zero": false}, "axis": {"orient": "top", "labels": false, "title": null, "values": [1092,1093,1094,1095,1096,1097,1098,1099,1100,1101,1102,1103,1104,1105,1106,1107,1108,1109,1110,1111,1112,1113,1114,1115,1116,1117,1118,1119,1120,1121], "tickSize": {"condition": {"test": "datum.value % 5 === 0", "value": -8}, "value": -4}}},
    "y": {"field": "v", "type": "quantitative", "scale": {"domain": [0, 50], "nice": false, "zero": false}, "axis": {"orient": "right", "labels": false, "title": null, "values": [0,2,4,6,8,10,12,14,16,18,20,22,24,26,28,30,32,34,36,38,40,42,44,46,48,50], "tickSize": {"condition": {"test": "datum.value % 10 === 0", "value": -8}, "value": -4}}}}},
  {"data": {"name": "pts"}, "transform": [{"filter": "datum.p === 'LiF1B'"}], "mark": {"type": "point", "filled": false, "size": 105, "strokeWidth": 1.3, "opacity": 1},
   "encoding": {"x": {"field": "wl", "type": "quantitative", "scale": {"domain": [1091.5, 1121.2], "nice": false, "zero": false}, "axis": {"orient": "bottom", "title": null, "format": "d", "labelFlush": false, "labelOverlap": false, "labelPadding": 20, "values": [1092,1093,1094,1095,1096,1097,1098,1099,1100,1101,1102,1103,1104,1105,1106,1107,1108,1109,1110,1111,1112,1113,1114,1115,1116,1117,1118,1119,1120,1121], "labelExpr": "datum.value % 5 === 0 ? datum.label : ''", "tickSize": {"condition": {"test": "datum.value % 5 === 0", "value": -8}, "value": -4}}},
    "y": {"field": "v", "type": "quantitative", "scale": {"domain": [0, 50], "nice": false, "zero": false}, "axis": {"orient": "left", "title": null, "labelFlush": true, "labelOverlap": false, "labelPadding": 13, "values": [0,2,4,6,8,10,12,14,16,18,20,22,24,26,28,30,32,34,36,38,40,42,44,46,48,50], "labelExpr": "datum.value % 10 === 0 ? datum.label : ''", "tickSize": {"condition": {"test": "datum.value % 10 === 0", "value": -8}, "value": -4}}},
    "shape": {"field": "j", "type": "nominal", "scale": {"domain": ["H₂J=2","H₂J=3","H₂J=4"], "range": ["diamond","triangle-up","square"]}, "legend": {"title": null, "orient": "none", "legendX": 32, "legendY": 132, "labelFontSize": 13, "symbolSize": 115, "symbolStrokeWidth": 1.3, "rowPadding": -3, "labelOffset": 10, "padding": 0, "labelColor": "#222"}},
    "color": {"field": "j", "type": "nominal", "scale": {"domain": ["H₂J=2","H₂J=3","H₂J=4"], "range": ["#22dd22","#0000ff","#000000"]}, "legend": {"title": null, "orient": "none", "legendX": 32, "legendY": 132, "labelFontSize": 13, "symbolSize": 115, "symbolStrokeWidth": 1.3, "rowPadding": -3, "labelOffset": 10, "padding": 0, "labelColor": "#222"}}}},
  {"data": {"values": [{"name": "LiF1B"}]}, "mark": {"type": "text", "fontSize": 19, "color": "#555555"},
   "encoding": {"x": {"datum": 1108.0, "type": "quantitative", "scale": {"domain": [1091.5, 1121.2], "nice": false, "zero": false}, "axis": null}, "y": {"datum": 6.8, "type": "quantitative", "scale": {"domain": [0, 50], "nice": false, "zero": false}, "axis": null}, "text": {"field": "name"}}}
 ]},
{"width": 328, "height": 178, "resolve": {"axis": {"x": "independent", "y": "independent"}},
 "layer": [
  {"data": {"name": "pts"}, "transform": [{"filter": "datum.p === 'SiC1A'"}], "mark": {"type": "rule", "strokeWidth": 1, "clip": true},
   "encoding": {"x": {"field": "wl", "type": "quantitative", "scale": {"domain": [999.2, 1086.7], "nice": false, "zero": false}, "axis": null},
    "y": {"field": "lo", "type": "quantitative", "scale": {"domain": [0, 50], "nice": false, "zero": false}, "axis": null}, "y2": {"field": "hi"},
    "stroke": {"field": "j", "type": "nominal", "scale": {"domain": ["H₂J=2","H₂J=3","H₂J=4"], "range": ["#8fd88f","#6a6aff","#666666"]}, "legend": null}}},
  {"data": {"name": "fit"}, "transform": [{"filter": "datum.p === 'SiC1A'"}], "mark": {"type": "line", "color": "#ff0000", "strokeWidth": 1.2, "interpolate": "monotone", "clip": true},
   "encoding": {"x": {"field": "wl", "type": "quantitative", "scale": {"domain": [999.2, 1086.7], "nice": false, "zero": false}, "axis": {"orient": "top", "labels": false, "title": null, "values": [1000,1005,1010,1015,1020,1025,1030,1035,1040,1045,1050,1055,1060,1065,1070,1075,1080,1085], "tickSize": {"condition": {"test": "datum.value % 20 === 0", "value": -8}, "value": -4}}},
    "y": {"field": "v", "type": "quantitative", "scale": {"domain": [0, 50], "nice": false, "zero": false}, "axis": {"orient": "right", "labels": false, "title": null, "values": [0,2,4,6,8,10,12,14,16,18,20,22,24,26,28,30,32,34,36,38,40,42,44,46,48,50], "tickSize": {"condition": {"test": "datum.value % 10 === 0", "value": -8}, "value": -4}}}}},
  {"data": {"name": "pts"}, "transform": [{"filter": "datum.p === 'SiC1A'"}], "mark": {"type": "point", "filled": false, "size": 105, "strokeWidth": 1.3, "opacity": 1},
   "encoding": {"x": {"field": "wl", "type": "quantitative", "scale": {"domain": [999.2, 1086.7], "nice": false, "zero": false}, "axis": {"orient": "bottom", "title": null, "format": "d", "labelFlush": false, "labelOverlap": false, "labelPadding": 20, "values": [1000,1005,1010,1015,1020,1025,1030,1035,1040,1045,1050,1055,1060,1065,1070,1075,1080,1085], "labelExpr": "datum.value % 20 === 0 ? datum.label : ''", "tickSize": {"condition": {"test": "datum.value % 20 === 0", "value": -8}, "value": -4}}},
    "y": {"field": "v", "type": "quantitative", "scale": {"domain": [0, 50], "nice": false, "zero": false}, "axis": {"orient": "left", "title": "LSF FWHM (km s⁻¹)", "labelFlush": true, "labelOverlap": false, "labelPadding": 13, "values": [0,2,4,6,8,10,12,14,16,18,20,22,24,26,28,30,32,34,36,38,40,42,44,46,48,50], "labelExpr": "datum.value % 10 === 0 ? datum.label : ''", "tickSize": {"condition": {"test": "datum.value % 10 === 0", "value": -8}, "value": -4}}},
    "shape": {"field": "j", "type": "nominal", "scale": {"domain": ["H₂J=2","H₂J=3","H₂J=4"], "range": ["diamond","triangle-up","square"]}, "legend": {"title": null, "orient": "none", "legendX": 32, "legendY": 132, "labelFontSize": 13, "symbolSize": 115, "symbolStrokeWidth": 1.3, "rowPadding": -3, "labelOffset": 10, "padding": 0, "labelColor": "#222"}},
    "color": {"field": "j", "type": "nominal", "scale": {"domain": ["H₂J=2","H₂J=3","H₂J=4"], "range": ["#22dd22","#0000ff","#000000"]}, "legend": {"title": null, "orient": "none", "legendX": 32, "legendY": 132, "labelFontSize": 13, "symbolSize": 115, "symbolStrokeWidth": 1.3, "rowPadding": -3, "labelOffset": 10, "padding": 0, "labelColor": "#222"}}}},
  {"data": {"values": [{"name": "SiC1A"}]}, "mark": {"type": "text", "fontSize": 19, "color": "#555555"},
   "encoding": {"x": {"datum": 1048.3, "type": "quantitative", "scale": {"domain": [999.2, 1086.7], "nice": false, "zero": false}, "axis": null}, "y": {"datum": 6.5, "type": "quantitative", "scale": {"domain": [0, 50], "nice": false, "zero": false}, "axis": null}, "text": {"field": "name"}}}
 ]},
{"width": 328, "height": 178, "resolve": {"axis": {"x": "independent", "y": "independent"}},
 "layer": [
  {"data": {"name": "pts"}, "transform": [{"filter": "datum.p === 'SiC1B'"}], "mark": {"type": "rule", "strokeWidth": 1, "clip": true},
   "encoding": {"x": {"field": "wl", "type": "quantitative", "scale": {"domain": [915.5, 994.5], "nice": false, "zero": false}, "axis": null},
    "y": {"field": "lo", "type": "quantitative", "scale": {"domain": [0, 50], "nice": false, "zero": false}, "axis": null}, "y2": {"field": "hi"},
    "stroke": {"field": "j", "type": "nominal", "scale": {"domain": ["H₂J=2","H₂J=3","H₂J=4"], "range": ["#8fd88f","#6a6aff","#666666"]}, "legend": null}}},
  {"data": {"name": "fit"}, "transform": [{"filter": "datum.p === 'SiC1B'"}], "mark": {"type": "line", "color": "#ff0000", "strokeWidth": 1.2, "interpolate": "monotone", "clip": true},
   "encoding": {"x": {"field": "wl", "type": "quantitative", "scale": {"domain": [915.5, 994.5], "nice": false, "zero": false}, "axis": {"orient": "top", "labels": false, "title": null, "values": [920,925,930,935,940,945,950,955,960,965,970,975,980,985,990], "tickSize": {"condition": {"test": "datum.value % 20 === 0", "value": -8}, "value": -4}}},
    "y": {"field": "v", "type": "quantitative", "scale": {"domain": [0, 50], "nice": false, "zero": false}, "axis": {"orient": "right", "labels": false, "title": null, "values": [0,2,4,6,8,10,12,14,16,18,20,22,24,26,28,30,32,34,36,38,40,42,44,46,48,50], "tickSize": {"condition": {"test": "datum.value % 10 === 0", "value": -8}, "value": -4}}}}},
  {"data": {"name": "pts"}, "transform": [{"filter": "datum.p === 'SiC1B'"}], "mark": {"type": "point", "filled": false, "size": 105, "strokeWidth": 1.3, "opacity": 1},
   "encoding": {"x": {"field": "wl", "type": "quantitative", "scale": {"domain": [915.5, 994.5], "nice": false, "zero": false}, "axis": {"orient": "bottom", "title": null, "format": "d", "labelFlush": false, "labelOverlap": false, "labelPadding": 20, "values": [920,925,930,935,940,945,950,955,960,965,970,975,980,985,990], "labelExpr": "datum.value % 20 === 0 ? datum.label : ''", "tickSize": {"condition": {"test": "datum.value % 20 === 0", "value": -8}, "value": -4}}},
    "y": {"field": "v", "type": "quantitative", "scale": {"domain": [0, 50], "nice": false, "zero": false}, "axis": {"orient": "left", "title": null, "labelFlush": true, "labelOverlap": false, "labelPadding": 13, "values": [0,2,4,6,8,10,12,14,16,18,20,22,24,26,28,30,32,34,36,38,40,42,44,46,48,50], "labelExpr": "datum.value % 10 === 0 ? datum.label : ''", "tickSize": {"condition": {"test": "datum.value % 10 === 0", "value": -8}, "value": -4}}},
    "shape": {"field": "j", "type": "nominal", "scale": {"domain": ["H₂J=2","H₂J=3","H₂J=4"], "range": ["diamond","triangle-up","square"]}, "legend": {"title": null, "orient": "none", "legendX": 32, "legendY": 132, "labelFontSize": 13, "symbolSize": 115, "symbolStrokeWidth": 1.3, "rowPadding": -3, "labelOffset": 10, "padding": 0, "labelColor": "#222"}},
    "color": {"field": "j", "type": "nominal", "scale": {"domain": ["H₂J=2","H₂J=3","H₂J=4"], "range": ["#22dd22","#0000ff","#000000"]}, "legend": {"title": null, "orient": "none", "legendX": 32, "legendY": 132, "labelFontSize": 13, "symbolSize": 115, "symbolStrokeWidth": 1.3, "rowPadding": -3, "labelOffset": 10, "padding": 0, "labelColor": "#222"}}}},
  {"data": {"values": [{"name": "SiC1B"}]}, "mark": {"type": "text", "fontSize": 19, "color": "#555555"},
   "encoding": {"x": {"datum": 960.6, "type": "quantitative", "scale": {"domain": [915.5, 994.5], "nice": false, "zero": false}, "axis": null}, "y": {"datum": 6.5, "type": "quantitative", "scale": {"domain": [0, 50], "nice": false, "zero": false}, "axis": null}, "text": {"field": "name"}}}
 ]},
{"width": 328, "height": 178, "resolve": {"axis": {"x": "independent", "y": "independent"}},
 "layer": [
  {"data": {"name": "pts"}, "transform": [{"filter": "datum.p === 'SiC2B'"}], "mark": {"type": "rule", "strokeWidth": 1, "clip": true},
   "encoding": {"x": {"field": "wl", "type": "quantitative", "scale": {"domain": [1011.9, 1101.7], "nice": false, "zero": false}, "axis": null},
    "y": {"field": "lo", "type": "quantitative", "scale": {"domain": [0, 50], "nice": false, "zero": false}, "axis": null}, "y2": {"field": "hi"},
    "stroke": {"field": "j", "type": "nominal", "scale": {"domain": ["H₂J=2","H₂J=3","H₂J=4"], "range": ["#8fd88f","#6a6aff","#666666"]}, "legend": null}}},
  {"data": {"name": "fit"}, "transform": [{"filter": "datum.p === 'SiC2B'"}], "mark": {"type": "line", "color": "#ff0000", "strokeWidth": 1.2, "interpolate": "monotone", "clip": true},
   "encoding": {"x": {"field": "wl", "type": "quantitative", "scale": {"domain": [1011.9, 1101.7], "nice": false, "zero": false}, "axis": {"orient": "top", "labels": false, "title": null, "values": [1015,1020,1025,1030,1035,1040,1045,1050,1055,1060,1065,1070,1075,1080,1085,1090,1095,1100], "tickSize": {"condition": {"test": "datum.value % 20 === 0", "value": -8}, "value": -4}}},
    "y": {"field": "v", "type": "quantitative", "scale": {"domain": [0, 50], "nice": false, "zero": false}, "axis": {"orient": "right", "labels": false, "title": null, "values": [0,2,4,6,8,10,12,14,16,18,20,22,24,26,28,30,32,34,36,38,40,42,44,46,48,50], "tickSize": {"condition": {"test": "datum.value % 10 === 0", "value": -8}, "value": -4}}}}},
  {"data": {"name": "pts"}, "transform": [{"filter": "datum.p === 'SiC2B'"}], "mark": {"type": "point", "filled": false, "size": 105, "strokeWidth": 1.3, "opacity": 1},
   "encoding": {"x": {"field": "wl", "type": "quantitative", "scale": {"domain": [1011.9, 1101.7], "nice": false, "zero": false}, "axis": {"orient": "bottom", "title": "wavelength (Å)", "format": "d", "labelFlush": false, "labelOverlap": false, "labelPadding": 20, "values": [1015,1020,1025,1030,1035,1040,1045,1050,1055,1060,1065,1070,1075,1080,1085,1090,1095,1100], "labelExpr": "datum.value % 20 === 0 ? datum.label : ''", "tickSize": {"condition": {"test": "datum.value % 20 === 0", "value": -8}, "value": -4}}},
    "y": {"field": "v", "type": "quantitative", "scale": {"domain": [0, 50], "nice": false, "zero": false}, "axis": {"orient": "left", "title": "LSF FWHM (km s⁻¹)", "labelFlush": true, "labelOverlap": false, "labelPadding": 13, "values": [0,2,4,6,8,10,12,14,16,18,20,22,24,26,28,30,32,34,36,38,40,42,44,46,48,50], "labelExpr": "datum.value % 10 === 0 ? datum.label : ''", "tickSize": {"condition": {"test": "datum.value % 10 === 0", "value": -8}, "value": -4}}},
    "shape": {"field": "j", "type": "nominal", "scale": {"domain": ["H₂J=2","H₂J=3","H₂J=4"], "range": ["diamond","triangle-up","square"]}, "legend": {"title": null, "orient": "none", "legendX": 32, "legendY": 132, "labelFontSize": 13, "symbolSize": 115, "symbolStrokeWidth": 1.3, "rowPadding": -3, "labelOffset": 10, "padding": 0, "labelColor": "#222"}},
    "color": {"field": "j", "type": "nominal", "scale": {"domain": ["H₂J=2","H₂J=3","H₂J=4"], "range": ["#22dd22","#0000ff","#000000"]}, "legend": {"title": null, "orient": "none", "legendX": 32, "legendY": 132, "labelFontSize": 13, "symbolSize": 115, "symbolStrokeWidth": 1.3, "rowPadding": -3, "labelOffset": 10, "padding": 0, "labelColor": "#222"}}}},
  {"data": {"values": [{"name": "SiC2B"}]}, "mark": {"type": "text", "fontSize": 19, "color": "#555555"},
   "encoding": {"x": {"datum": 1062.8, "type": "quantitative", "scale": {"domain": [1011.9, 1101.7], "nice": false, "zero": false}, "axis": null}, "y": {"datum": 7.0, "type": "quantitative", "scale": {"domain": [0, 50], "nice": false, "zero": false}, "axis": null}, "text": {"field": "name"}}}
 ]},
{"width": 328, "height": 178, "resolve": {"axis": {"x": "independent", "y": "independent"}},
 "layer": [
  {"data": {"name": "pts"}, "transform": [{"filter": "datum.p === 'SiC2A'"}], "mark": {"type": "rule", "strokeWidth": 1, "clip": true},
   "encoding": {"x": {"field": "wl", "type": "quantitative", "scale": {"domain": [915.6, 1010.5], "nice": false, "zero": false}, "axis": null},
    "y": {"field": "lo", "type": "quantitative", "scale": {"domain": [0, 50], "nice": false, "zero": false}, "axis": null}, "y2": {"field": "hi"},
    "stroke": {"field": "j", "type": "nominal", "scale": {"domain": ["H₂J=2","H₂J=3","H₂J=4"], "range": ["#8fd88f","#6a6aff","#666666"]}, "legend": null}}},
  {"data": {"name": "fit"}, "transform": [{"filter": "datum.p === 'SiC2A'"}], "mark": {"type": "line", "color": "#ff0000", "strokeWidth": 1.2, "interpolate": "monotone", "clip": true},
   "encoding": {"x": {"field": "wl", "type": "quantitative", "scale": {"domain": [915.6, 1010.5], "nice": false, "zero": false}, "axis": {"orient": "top", "labels": false, "title": null, "values": [920,925,930,935,940,945,950,955,960,965,970,975,980,985,990,995,1000,1005,1010], "tickSize": {"condition": {"test": "datum.value % 20 === 0", "value": -8}, "value": -4}}},
    "y": {"field": "v", "type": "quantitative", "scale": {"domain": [0, 50], "nice": false, "zero": false}, "axis": {"orient": "right", "labels": false, "title": null, "values": [0,2,4,6,8,10,12,14,16,18,20,22,24,26,28,30,32,34,36,38,40,42,44,46,48,50], "tickSize": {"condition": {"test": "datum.value % 10 === 0", "value": -8}, "value": -4}}}}},
  {"data": {"name": "pts"}, "transform": [{"filter": "datum.p === 'SiC2A'"}], "mark": {"type": "point", "filled": false, "size": 105, "strokeWidth": 1.3, "opacity": 1},
   "encoding": {"x": {"field": "wl", "type": "quantitative", "scale": {"domain": [915.6, 1010.5], "nice": false, "zero": false}, "axis": {"orient": "bottom", "title": "wavelength (Å)", "format": "d", "labelFlush": false, "labelOverlap": false, "labelPadding": 20, "values": [920,925,930,935,940,945,950,955,960,965,970,975,980,985,990,995,1000,1005,1010], "labelExpr": "datum.value % 20 === 0 ? datum.label : ''", "tickSize": {"condition": {"test": "datum.value % 20 === 0", "value": -8}, "value": -4}}},
    "y": {"field": "v", "type": "quantitative", "scale": {"domain": [0, 50], "nice": false, "zero": false}, "axis": {"orient": "left", "title": null, "labelFlush": true, "labelOverlap": false, "labelPadding": 13, "values": [0,2,4,6,8,10,12,14,16,18,20,22,24,26,28,30,32,34,36,38,40,42,44,46,48,50], "labelExpr": "datum.value % 10 === 0 ? datum.label : ''", "tickSize": {"condition": {"test": "datum.value % 10 === 0", "value": -8}, "value": -4}}},
    "shape": {"field": "j", "type": "nominal", "scale": {"domain": ["H₂J=2","H₂J=3","H₂J=4"], "range": ["diamond","triangle-up","square"]}, "legend": {"title": null, "orient": "none", "legendX": 32, "legendY": 132, "labelFontSize": 13, "symbolSize": 115, "symbolStrokeWidth": 1.3, "rowPadding": -3, "labelOffset": 10, "padding": 0, "labelColor": "#222"}},
    "color": {"field": "j", "type": "nominal", "scale": {"domain": ["H₂J=2","H₂J=3","H₂J=4"], "range": ["#22dd22","#0000ff","#000000"]}, "legend": {"title": null, "orient": "none", "legendX": 32, "legendY": 132, "labelFontSize": 13, "symbolSize": 115, "symbolStrokeWidth": 1.3, "rowPadding": -3, "labelOffset": 10, "padding": 0, "labelColor": "#222"}}}},
  {"data": {"values": [{"name": "SiC2A"}]}, "mark": {"type": "text", "fontSize": 19, "color": "#555555"},
   "encoding": {"x": {"datum": 968.9, "type": "quantitative", "scale": {"domain": [915.6, 1010.5], "nice": false, "zero": false}, "axis": null}, "y": {"datum": 7.0, "type": "quantitative", "scale": {"domain": [0, 50], "nice": false, "zero": false}, "axis": null}, "text": {"field": "name"}}}
 ]}
]
}
